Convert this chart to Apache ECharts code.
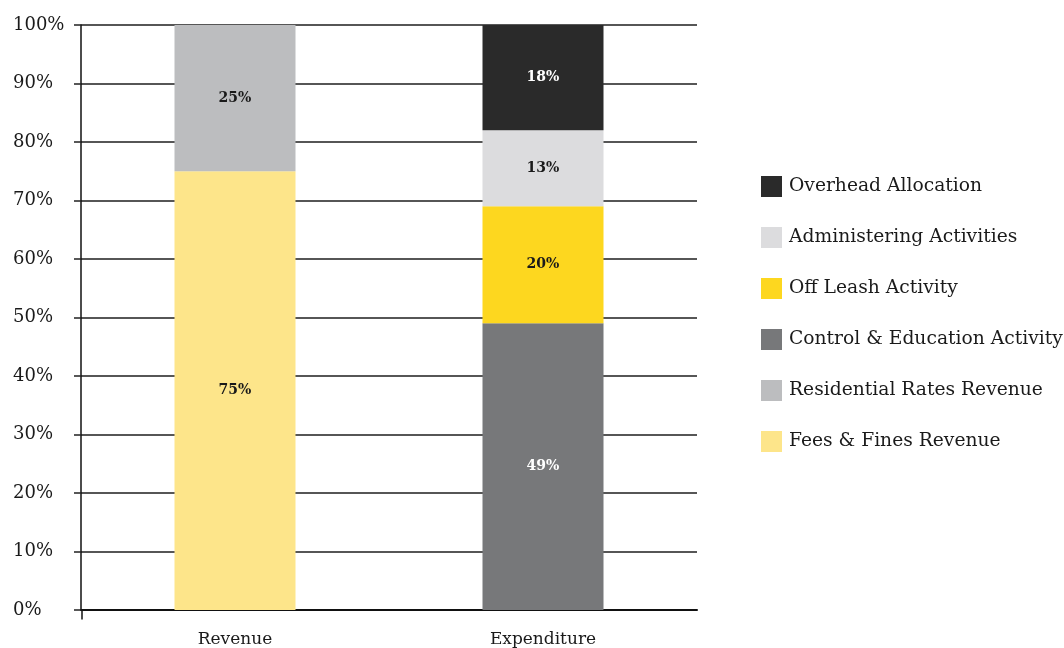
<!DOCTYPE html>
<html>
<head>
<meta charset="utf-8">
<script src="https://cdn.jsdelivr.net/npm/echarts@6/dist/echarts.min.js"></script>
<style>
html,body{margin:0;padding:0;background:#fff;}
#chart{width:1064px;height:648px;}
</style>
</head>
<body>
<div id="chart"></div>
<script>
const categories = ['Revenue', 'Expenditure'];
const feesFines = [75, '-'];
const residentialRates = [25, '-'];
const controlEducation = ['-', 49];
const offLeash = ['-', 20];
const administering = ['-', 13];
const overhead = ['-', 18];
const yTicks = [0, 100, 10];

const FONT = '"DejaVu Serif", serif';
const GRID = { left: 81, right: 367, top: 25, bottom: 36 };

function mk(name, data, color, labelColor) {
  return {
    name: name,
    type: 'bar',
    stack: 'total',
    data: data,
    barWidth: 121,
    itemStyle: { color: color },
    label: {
      show: true,
      position: 'inside',
      formatter: p => p.value + '%',
      color: labelColor,
      fontFamily: FONT,
      fontWeight: 'bold',
      fontSize: 14
    },
    emphasis: { disabled: true }
  };
}

const chart = echarts.init(document.getElementById('chart'));
chart.setOption({
  animation: false,
  grid: Object.assign({ containLabel: false }, GRID),
  legend: {
    orient: 'vertical',
    left: 761,
    top: 176,
    padding: 0,
    itemWidth: 21,
    itemHeight: 21,
    itemGap: 30,
    icon: 'rect',
    data: ['Overhead Allocation', 'Administering Activities', 'Off Leash Activity',
           'Control & Education Activity', 'Residential Rates Revenue', 'Fees & Fines Revenue'],
    textStyle: { fontFamily: FONT, fontSize: 18.7, color: '#1a1a1a', padding: [0, 0, 0, 2] }
  },
  graphic: [{
    type: 'line',
    left: GRID.left - 1.5,
    bottom: GRID.bottom - 10,
    shape: { x1: 0, y1: 0, x2: 0, y2: 10 },
    style: { stroke: '#111', lineWidth: 1.5 }
  }],
  xAxis: {
    type: 'category',
    data: categories,
    axisLine: { show: true, lineStyle: { color: '#111', width: 2 } },
    axisTick: { show: false },
    axisLabel: { fontFamily: FONT, fontSize: 17, color: '#1a1a1a', margin: 21 }
  },
  yAxis: {
    type: 'value',
    min: yTicks[0],
    max: yTicks[1],
    interval: yTicks[2],
    axisLine: { show: true, lineStyle: { color: '#111', width: 1.5 } },
    axisTick: { show: true, length: 7, lineStyle: { color: '#222', width: 1.5 } },
    axisLabel: { fontFamily: FONT, fontSize: 18, color: '#1a1a1a', align: 'left', margin: 68, formatter: '{value}%' },
    splitLine: { show: true, lineStyle: { color: '#1e1e1e', width: 1.6 } }
  },
  series: [
    mk('Fees & Fines Revenue', feesFines, '#fde58a', '#1a1a1a'),
    mk('Residential Rates Revenue', residentialRates, '#bcbdbf', '#1a1a1a'),
    mk('Control & Education Activity', controlEducation, '#77787a', '#ffffff'),
    mk('Off Leash Activity', offLeash, '#fdd71f', '#1a1a1a'),
    mk('Administering Activities', administering, '#dcdcde', '#1a1a1a'),
    mk('Overhead Allocation', overhead, '#2a2a2a', '#ffffff')
  ]
});
</script>
</body>
</html>
